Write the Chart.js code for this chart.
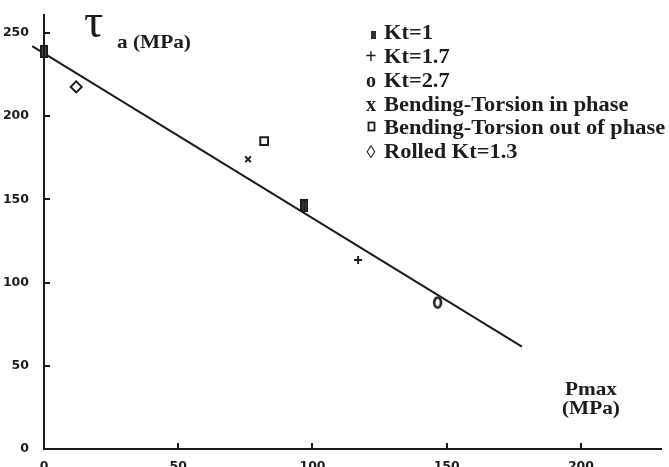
<!DOCTYPE html>
<html>
<head>
<meta charset="utf-8">
<script src="https://cdn.jsdelivr.net/npm/chart.js@4.4.1/dist/chart.umd.min.js"></script>
<style>
html, body { margin: 0; padding: 0; background: #fff; }
canvas { display: block; }
</style>
</head>
<body>
<canvas id="chart" width="669" height="467"></canvas>
<script>
// Values
const seriesNames = ['Kt=1', 'Kt=1.7', 'Kt=2.7', 'Bending-Torsion in phase', 'Bending-Torsion out of phase', 'Rolled Kt=1.3'];
const kt1X = [0, 97];
const kt1Y = [239, 146];
const kt17X = [117];
const kt17Y = [113.5];
const kt27X = [146.6];
const kt27Y = [88];
const inPhaseX = [76];
const inPhaseY = [174];
const outPhaseX = [82];
const outPhaseY = [185];
const rolledX = [12];
const rolledY = [217.5];
const fitX = [-4.4, 178];
const fitY = [242, 61.5];
const xTicks = [0, 50, 100, 150, 200];
const yTicks = [0, 50, 100, 150, 200, 250];

const ink = '#1c1c1c';
const serif = '"Liberation Serif", "Times New Roman", serif';
const stretch = 1.12;

function toPts(xs, ys) {
    return xs.map((x, i) => ({ x: x, y: ys[i] }));
}

// little canvases for the marks that Chart.js has no style for
function markCanvas(w, h, draw) {
    const c = document.createElement('canvas');
    c.width = w;
    c.height = h;
    draw(c.getContext('2d'));
    return c;
}

const barMark = markCanvas(8, 13, g => {
    g.fillStyle = '#4a4a4a';
    g.fillRect(0, 0, 8, 13);
    g.strokeStyle = ink;
    g.lineWidth = 2;
    g.strokeRect(1, 1, 6, 11);
    g.beginPath();
    g.moveTo(4, 1);
    g.lineTo(4, 12);
    g.stroke();
});

const ringMark = markCanvas(11, 14, g => {
    g.strokeStyle = ink;
    g.lineWidth = 2.6;
    g.beginPath();
    g.ellipse(5.5, 7, 3.4, 5, 0, 0, Math.PI * 2);
    g.stroke();
});

function stretchedText(ctx, text, x, y) {
    ctx.save();
    ctx.translate(x, y);
    ctx.scale(stretch, 1);
    ctx.fillText(text, 0, 0);
    ctx.restore();
}

// Inward tick marks, title, axis name and the text legend
const decor = {
    id: 'decor',
    afterDraw(chart) {
        const ctx = chart.ctx;
        const xs = chart.scales.x;
        const ys = chart.scales.y;
        const area = chart.chartArea;
        ctx.save();
        ctx.strokeStyle = ink;
        ctx.lineWidth = 2;
        xTicks.forEach(v => {
            const px = Math.round(xs.getPixelForValue(v));
            ctx.beginPath();
            ctx.moveTo(px, area.bottom);
            ctx.lineTo(px, area.bottom - 6);
            ctx.stroke();
        });
        yTicks.forEach(v => {
            const py = Math.round(ys.getPixelForValue(v));
            ctx.beginPath();
            ctx.moveTo(area.left, py);
            ctx.lineTo(area.left + 6, py);
            ctx.stroke();
        });

        ctx.fillStyle = ink;
        ctx.textBaseline = 'alphabetic';
        ctx.textAlign = 'left';

        // tau_a (MPa)
        ctx.font = '48px ' + serif;
        ctx.fillText('τ', 84, 37);
        ctx.font = 'bold 19px ' + serif;
        stretchedText(ctx, 'a (MPa)', 117, 48);

        // Pmax (MPa)
        ctx.font = 'bold 19px ' + serif;
        stretchedText(ctx, 'Pmax', 565, 395);
        stretchedText(ctx, '(MPa)', 562, 414);

        // legend
        const baselines = [39, 63, 87, 111, 134, 158];
        ctx.font = 'bold 20px ' + serif;
        seriesNames.forEach((name, i) => {
            stretchedText(ctx, name, 384, baselines[i]);
        });
        // legend marks
        ctx.fillStyle = '#333';
        ctx.fillRect(371, 31, 5, 8);
        ctx.fillStyle = ink;
        ctx.textAlign = 'center';
        ctx.font = 'bold 20px ' + serif;
        ctx.fillText('+', 371, baselines[1]);
        ctx.fillText('o', 371, baselines[2]);
        ctx.fillText('x', 371, baselines[3]);
        ctx.font = '18px ' + serif;
        ctx.fillText('◊', 371, baselines[5]);
        ctx.lineWidth = 1.8;
        ctx.strokeRect(368.5, 122.5, 6, 8);
        ctx.restore();
    }
};

const markCommon = { borderColor: ink, backgroundColor: 'rgba(0,0,0,0)', clip: false, showLine: false };
const tickFont = { family: '"DejaVu Sans"', size: 12.5, weight: 'bold' };

new Chart(document.getElementById('chart'), {
    type: 'scatter',
    data: {
        datasets: [
            { type: 'line', label: 'fit', data: toPts(fitX, fitY), borderColor: ink, borderWidth: 2, pointRadius: 0, clip: false, fill: false, order: 5 },
            Object.assign({ label: seriesNames[0], data: toPts(kt1X, kt1Y), pointStyle: barMark, pointRadius: 6 }, markCommon),
            Object.assign({ label: seriesNames[1], data: toPts(kt17X, kt17Y), pointStyle: 'cross', pointRadius: 4, borderWidth: 2 }, markCommon),
            Object.assign({ label: seriesNames[2], data: toPts(kt27X, kt27Y), pointStyle: ringMark, pointRadius: 6 }, markCommon),
            Object.assign({ label: seriesNames[3], data: toPts(inPhaseX, inPhaseY), pointStyle: 'crossRot', pointRadius: 4, borderWidth: 2 }, markCommon),
            Object.assign({ label: seriesNames[4], data: toPts(outPhaseX, outPhaseY), pointStyle: 'rect', pointRadius: 5.5, borderWidth: 2 }, markCommon),
            Object.assign({ label: seriesNames[5], data: toPts(rolledX, rolledY), pointStyle: 'rectRot', pointRadius: 5.5, borderWidth: 2 }, markCommon)
        ]
    },
    options: {
        responsive: false,
        animation: false,
        devicePixelRatio: 1,
        layout: { padding: { top: 7, right: 0, bottom: 0, left: 0 } },
        plugins: {
            legend: { display: false },
            tooltip: { enabled: false }
        },
        scales: {
            x: {
                type: 'linear',
                min: 0,
                max: 230,
                afterBuildTicks: s => { s.ticks = xTicks.map(v => ({ value: v })); },
                afterFit: s => { s.height = 18; },
                grid: { display: false },
                border: { display: true, color: ink, width: 2 },
                ticks: {
                    color: ink,
                    padding: 2,
                    maxRotation: 0,
                    autoSkip: false,
                    font: tickFont
                }
            },
            y: {
                type: 'linear',
                min: 0,
                max: 261,
                afterBuildTicks: s => { s.ticks = yTicks.map(v => ({ value: v })); },
                afterFit: s => { s.width = 44; },
                grid: { display: false },
                border: { display: true, color: ink, width: 2 },
                ticks: {
                    color: ink,
                    padding: 7,
                    autoSkip: false,
                    font: tickFont
                }
            }
        }
    },
    plugins: [decor]
});
</script>
</body>
</html>
